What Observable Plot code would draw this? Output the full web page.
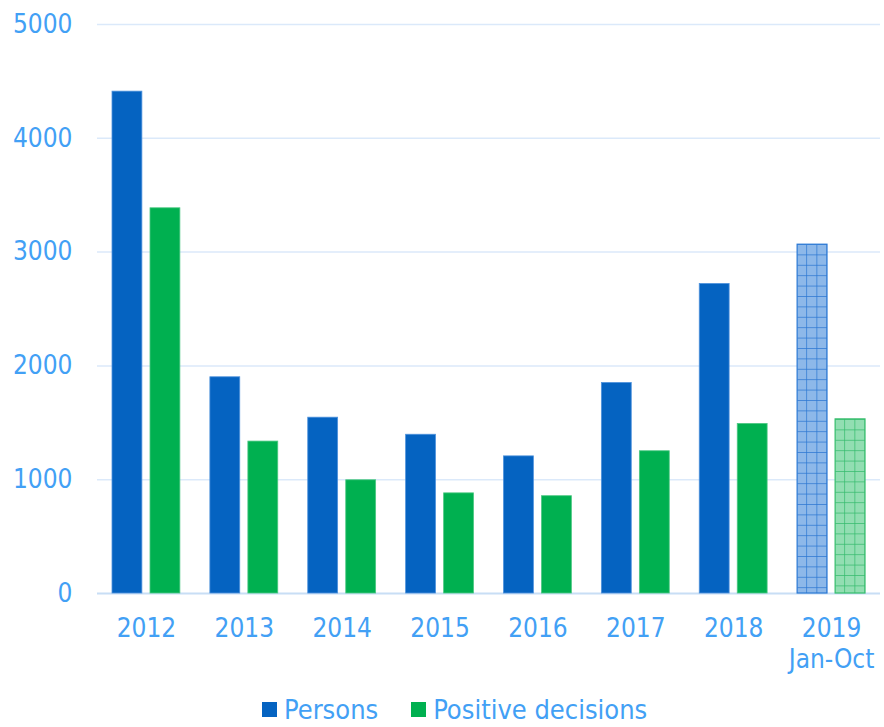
<!DOCTYPE html>
<html>
<head>
<meta charset="utf-8">
<script src="https://cdn.jsdelivr.net/npm/d3@7"></script>
<script src="https://cdn.jsdelivr.net/npm/@observablehq/plot@0.6"></script>
<style>
  body { margin: 0; background: #ffffff; }
  #chart { width: 884px; }
  .legend { display: flex; align-items: center; height: 27px; line-height: 27px; padding-top: 6px; padding-left: 262px;
    font-family: "DejaVu Sans Condensed", "Liberation Sans", sans-serif; font-size: 27px; color: #42a0f5; }
  .legend .sw { display: inline-block; width: 15px; height: 15px; margin-right: 7px; }
  .legend .item { display: flex; align-items: center; margin-right: 33px; }
</style>
</head>
<body>
<div id="chart"></div>
<script>
const years = ["2012", "2013", "2014", "2015", "2016", "2017", "2018", "2019\nJan-Oct"];
const persons = [4410, 1900, 1545, 1395, 1205, 1850, 2720, 3065];
const positive = [3385, 1335, 995, 880, 855, 1250, 1490, 1530];
const yTicks = [0, 1000, 2000, 3000, 4000, 5000];
const seriesNames = ["Persons", "Positive decisions"];
const seriesColors = ["#0563c1", "#00b050"];

const personsRows = persons.map((v, i) => ({year: years[i], value: v, partial: i === years.length - 1}));
const positiveRows = positive.map((v, i) => ({year: years[i], value: v, partial: i === years.length - 1}));

const font = '"DejaVu Sans Condensed", "Liberation Sans", sans-serif';
const textColor = "#42a0f5";

const chart = Plot.plot({
  width: 884,
  height: 690,
  marginLeft: 97,
  marginRight: 4,
  marginTop: 24,
  marginBottom: 97,
  style: {fontFamily: font, fontSize: "26px", color: textColor, background: "#ffffff", overflow: "visible"},
  x: {domain: years, padding: 0, round: false, label: null},
  y: {domain: [0, 5000], label: null},
  marks: [
    Plot.ruleY(yTicks.filter(d => d > 0), {stroke: "#dbe9fa", strokeWidth: 1.5}),
    Plot.ruleY([0], {stroke: "#c8def5", strokeWidth: 2}),
    Plot.barY(personsRows.filter(d => !d.partial), {x: "year", y: "value", fill: seriesColors[0], stroke: "#4f92dc", strokeWidth: 0.8, insetLeft: 15, insetRight: 53}),
    Plot.barY(positiveRows.filter(d => !d.partial), {x: "year", y: "value", fill: seriesColors[1], stroke: "#4cc882", strokeWidth: 0.8, insetLeft: 53, insetRight: 15}),
    Plot.barY(personsRows.filter(d => d.partial), {x: "year", y: "value", fill: "url(#patPersons)", stroke: "#2a78d4", strokeWidth: 1.2, insetLeft: 15, insetRight: 53}),
    Plot.barY(positiveRows.filter(d => d.partial), {x: "year", y: "value", fill: "url(#patPositive)", stroke: "#35bd6c", strokeWidth: 1.2, insetLeft: 53, insetRight: 15}),
    Plot.axisX({tickSize: 0, tickPadding: 22, lineHeight: 1.18, fill: textColor, fontSize: 26, label: null}),
    Plot.axisY({ticks: yTicks, tickSize: 0, tickPadding: 25, tickFormat: d => String(d), fill: textColor, fontSize: 26, label: null})
  ]
});

const defs = d3.select(chart).insert("defs", ":first-child");
defs.html(`
  <pattern id="patPersons" patternUnits="userSpaceOnUse" x="796" y="244" width="10.2" height="10.4">
    <rect width="10.2" height="10.4" fill="#8db8e9"></rect>
    <path d="M0 0H10.2M0 0V10.4" stroke="#2a76d2" stroke-width="1.4"></path>
  </pattern>
  <pattern id="patPositive" patternUnits="userSpaceOnUse" x="834" y="419" width="10.2" height="10.4">
    <rect width="10.2" height="10.4" fill="#92deb2"></rect>
    <path d="M0 0H10.2M0 0V10.4" stroke="#33bb6b" stroke-width="1.4"></path>
  </pattern>
`);

document.getElementById("chart").appendChild(chart);

const legend = document.createElement("div");
legend.className = "legend";
seriesNames.forEach((name, i) => {
  const item = document.createElement("span");
  item.className = "item";
  const sw = document.createElement("span");
  sw.className = "sw";
  sw.style.background = seriesColors[i];
  item.appendChild(sw);
  item.appendChild(document.createTextNode(name));
  legend.appendChild(item);
});
document.getElementById("chart").appendChild(legend);
</script>
</body>
</html>
